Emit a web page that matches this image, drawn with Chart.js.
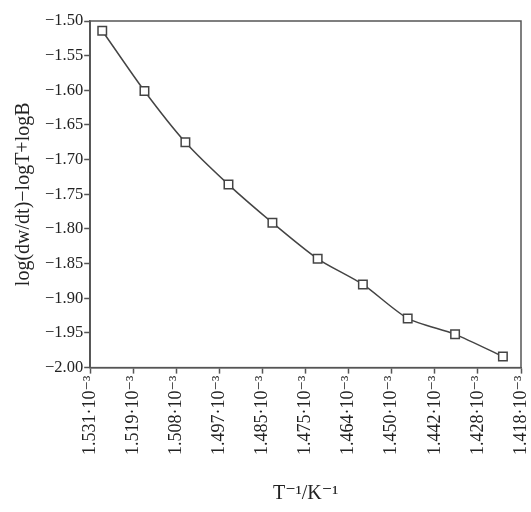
<!DOCTYPE html>
<html><head><meta charset="utf-8">
<script src="https://cdn.jsdelivr.net/npm/chart.js@4"></script>
<style>html,body{margin:0;padding:0;background:#fff}#wrap{width:531px;height:512px}</style>
</head><body><div id="wrap"><canvas id="c" width="531" height="512"></canvas></div>
<script>
const xTickLabels = ["1.531·10⁻³","1.519·10⁻³","1.508·10⁻³","1.497·10⁻³","1.485·10⁻³","1.475·10⁻³","1.464·10⁻³","1.450·10⁻³","1.442·10⁻³","1.428·10⁻³","1.418·10⁻³"];
const xPos = [0.28, 1.26, 2.21, 3.21, 4.23, 5.28, 6.33, 7.37, 8.47, 9.58];
const yVals = [-1.514, -1.601, -1.675, -1.736, -1.791, -1.843, -1.880, -1.929, -1.952, -1.984];
const fnt = "'Liberation Serif', 'DejaVu Serif', serif";
const frame = {id:'frame', afterDatasetsDraw(ch){const a=ch.chartArea,c=ch.ctx;c.save();c.strokeStyle='#555';c.lineWidth=1.5;c.strokeRect(a.left,a.top,a.right-a.left,a.bottom-a.top);c.restore();}};
new Chart(document.getElementById('c'), {
  type:'line',
  data:{datasets:[{data:xPos.map((x,i)=>({x:x,y:yVals[i]})),borderColor:'#444',borderWidth:1.5,tension:0.25,
    pointStyle:'rect',pointRadius:6,pointBackgroundColor:'#fff',pointBorderColor:'#444',pointBorderWidth:1.5,fill:false}]},
  options:{responsive:false,animation:false,
    layout:{padding:{top:21,right:10,left:8,bottom:2}},
    plugins:{legend:{display:false},tooltip:{enabled:false}},
    scales:{
      x:{type:'linear',min:0,max:10,
        afterFit:(s)=>{s.paddingRight=0;s.paddingLeft=0;},
        border:{color:'#555',width:1.5},
        grid:{drawOnChartArea:false,tickLength:6,tickColor:'#555',tickWidth:1.5},
        ticks:{stepSize:1,autoSkip:false,maxRotation:90,minRotation:90,color:'#222',font:{family:fnt,size:18},padding:2,
          callback:(v)=>xTickLabels[Math.round(v)]},
        title:{display:true,text:'T⁻¹/K⁻¹',color:'#222',font:{family:fnt,size:20},padding:{top:25}}},
      y:{type:'linear',min:-2.0,max:-1.5,
        border:{color:'#555',width:1.5},
        grid:{drawOnChartArea:false,tickLength:6,tickColor:'#555',tickWidth:1.5},
        ticks:{stepSize:0.05,color:'#222',font:{family:fnt,size:16.5},padding:1,
          callback:(v)=>v.toFixed(2).replace('-','−')},
        title:{display:true,text:'log(dw/dt)−logT+logB',color:'#222',font:{family:fnt,size:20},padding:{bottom:8}}}
    }},
  plugins:[frame]
});
</script></body></html>
